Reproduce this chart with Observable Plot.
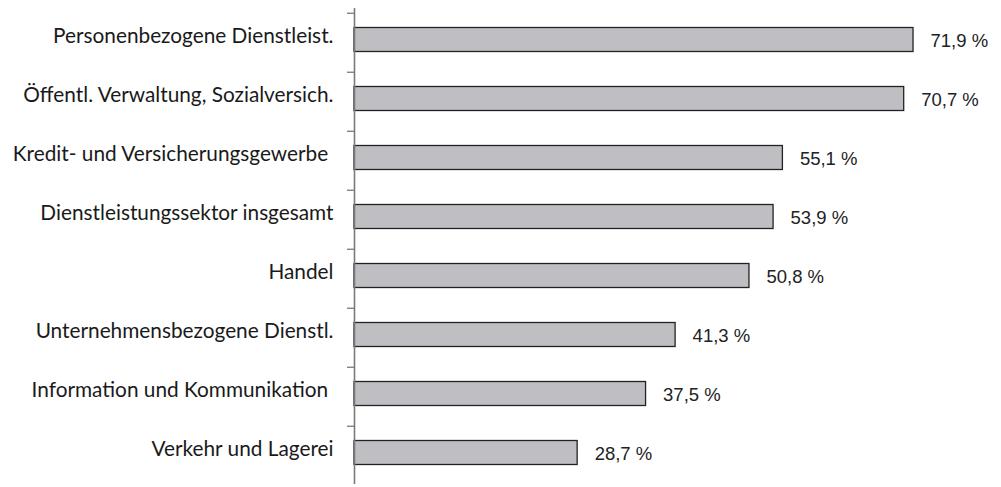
<!DOCTYPE html>
<html>
<head>
<meta charset="utf-8">
<script src="https://cdn.jsdelivr.net/npm/d3@7"></script>
<script src="https://cdn.jsdelivr.net/npm/@observablehq/plot@0.6"></script>
<style>
  html, body { margin: 0; padding: 0; background: #fff; }
  #chart svg { display: block; }
</style>
</head>
<body>
<div id="chart"></div>
<script>
const categories = [
  "Personenbezogene Dienstleist.",
  "Öffentl. Verwaltung, Sozialversich.",
  "Kredit- und Versicherungsgewerbe\u00a0",
  "Dienstleistungssektor insgesamt",
  "Handel",
  "Unternehmensbezogene Dienstl.",
  "Information und Kommunikation\u00a0",
  "Verkehr und Lagerei"
];
const values = [71.9, 70.7, 55.1, 53.9, 50.8, 41.3, 37.5, 28.7];
const valueLabels = ["71,9 %", "70,7 %", "55,1 %", "53,9 %", "50,8 %", "41,3 %", "37,5 %", "28,7 %"];

const data = categories.map((c, i) => ({category: c, value: values[i], label: valueLabels[i]}));

const W = 1001, H = 487, mt = 8, mb = 3;
const step = (H - mt - mb) / categories.length;

const chart = Plot.plot({
  width: W,
  height: H,
  marginLeft: 354,
  marginRight: 25,
  marginTop: mt,
  marginBottom: mb,
  style: {background: "#fff"},
  x: {domain: [0, 80], axis: null},
  y: {domain: categories, padding: 0, axis: null},
  marks: [
    Plot.barX(data, {
      y: "category", x: "value",
      fill: "#bfbfc3", stroke: "#222", strokeWidth: 1.3,
      insetTop: 17.5, insetBottom: 17.5
    }),
    Plot.ruleX([0], {stroke: "#7a7a7a", strokeWidth: 1.6, y1: null, y2: null}),
    Plot.tickY(categories, {
      y: d => d, x: null, stroke: "#7a7a7a", strokeWidth: 1.3,
      dy: -step / 2 + 3, dx: 0,
      render(index, scales, values, dims, context, next) {
        const g = next(index, scales, values, dims, context);
        d3.select(g).selectAll("line")
          .attr("x1", dims.marginLeft - 7)
          .attr("x2", dims.marginLeft);
        return g;
      }
    }),
    Plot.text(data, {
      y: "category", x: 0, text: "category",
      textAnchor: "end", dx: -21, dy: -4,
      fontFamily: "Lato", fontSize: 20.8, fill: "#1a1a1a"
    }),
    Plot.text(data, {
      y: "category", x: "value", text: "label",
      textAnchor: "start", dx: 17, dy: 1,
      fontFamily: "Liberation Sans", fontSize: 18.5, fill: "#222"
    })
  ]
});
document.getElementById("chart").appendChild(chart);
</script>
</body>
</html>
